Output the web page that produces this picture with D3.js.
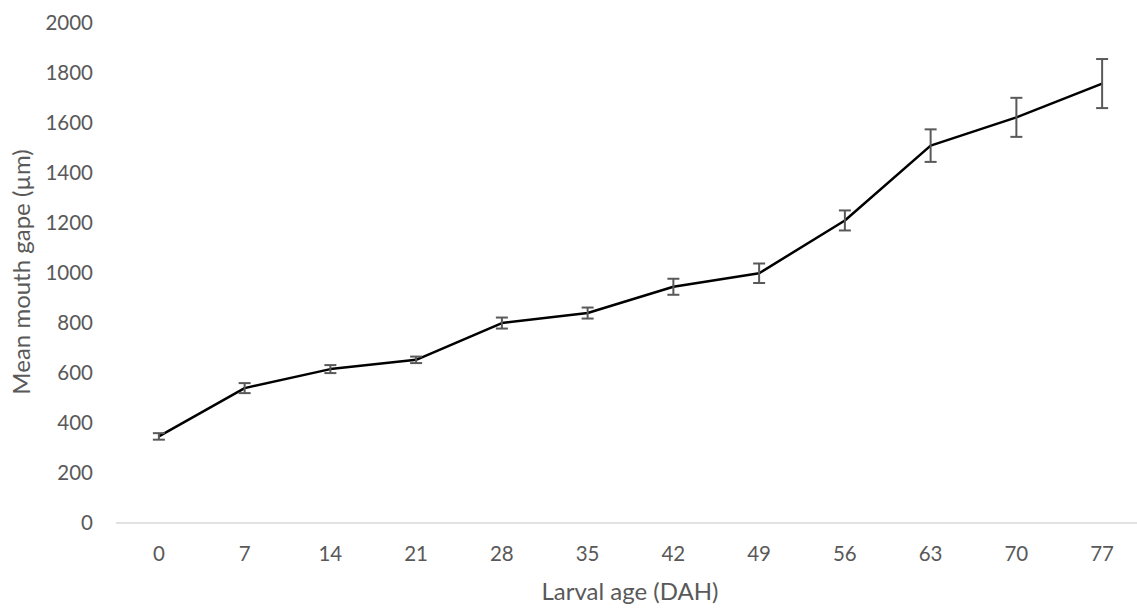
<!DOCTYPE html>
<html>
<head>
<meta charset="utf-8">
<script src="https://cdn.jsdelivr.net/npm/d3@7"></script>
<style>
  html, body { margin: 0; padding: 0; background: #fff; }
  svg { display: block; font-family: Lato, "Open Sans", sans-serif; }
</style>
</head>
<body>
<svg id="chart" width="1137" height="610"></svg>
<script>
// Larval age (days after hatching)
const ages = ["0", "7", "14", "21", "28", "35", "42", "49", "56", "63", "70", "77"];
// Mean mouth gape (µm)
const meanGape = [346, 539, 615, 652, 799, 839, 944, 998, 1209, 1508, 1621, 1756];
// Standard error (±µm)
const gapeError = [13, 20, 16, 13, 22, 22, 32, 39, 40, 65, 78, 98];
const yTicks = [0, 200, 400, 600, 800, 1000, 1200, 1400, 1600, 1800, 2000];

const data = ages.map((a, i) => ({ age: a, mean: meanGape[i], err: gapeError[i] }));

const svg = d3.select("#chart");
const plotLeft = 116, plotRight = 1145, plotTop = 22.5, plotBottom = 523;

const x = d3.scalePoint().domain(ages).range([plotLeft, plotRight]).padding(0.5);
const y = d3.scaleLinear().domain([0, 2000]).range([plotBottom, plotTop]);

const textColor = "#595959";

// Horizontal axis line
svg.append("line")
  .attr("x1", plotLeft).attr("x2", plotRight)
  .attr("y1", y(0)).attr("y2", y(0))
  .attr("stroke", "#d9d9d9").attr("stroke-width", 1.5);

// Y tick labels
svg.append("g").selectAll("text")
  .data(yTicks).join("text")
  .attr("x", 93).attr("y", d => y(d))
  .attr("dy", "0.35em")
  .attr("text-anchor", "end")
  .attr("fill", textColor)
  .attr("font-size", 20.5)
  .text(d => d);

// X tick labels
svg.append("g").selectAll("text")
  .data(ages).join("text")
  .attr("x", d => x(d)).attr("y", 554)
  .attr("dy", "0.35em")
  .attr("text-anchor", "middle")
  .attr("fill", textColor)
  .attr("font-size", 20.5)
  .text(d => d);

// Axis titles
svg.append("text")
  .attr("x", 630).attr("y", 592)
  .attr("dy", "0.35em")
  .attr("text-anchor", "middle")
  .attr("fill", textColor)
  .attr("font-size", 24)
  .text("Larval age (DAH)");

svg.append("text")
  .attr("transform", "translate(22,272) rotate(-90)")
  .attr("dy", "0.35em")
  .attr("text-anchor", "middle")
  .attr("fill", textColor)
  .attr("font-size", 24)
  .text("Mean mouth gape (µm)");

// Mean line
svg.append("path")
  .datum(data)
  .attr("fill", "none")
  .attr("stroke", "#000")
  .attr("stroke-width", 2.5)
  .attr("stroke-linejoin", "round")
  .attr("d", d3.line().x(d => x(d.age)).y(d => y(d.mean)));

// Error bars
const eb = svg.append("g").attr("stroke", "#595959").attr("stroke-width", 2);
const capHalf = 6;
eb.selectAll(".stem").data(data).join("line")
  .attr("x1", d => x(d.age)).attr("x2", d => x(d.age))
  .attr("y1", d => y(d.mean - d.err)).attr("y2", d => y(d.mean + d.err));
eb.selectAll(".capTop").data(data).join("line")
  .attr("x1", d => x(d.age) - capHalf).attr("x2", d => x(d.age) + capHalf)
  .attr("y1", d => y(d.mean + d.err)).attr("y2", d => y(d.mean + d.err));
eb.selectAll(".capBot").data(data).join("line")
  .attr("x1", d => x(d.age) - capHalf).attr("x2", d => x(d.age) + capHalf)
  .attr("y1", d => y(d.mean - d.err)).attr("y2", d => y(d.mean - d.err));
</script>
</body>
</html>
